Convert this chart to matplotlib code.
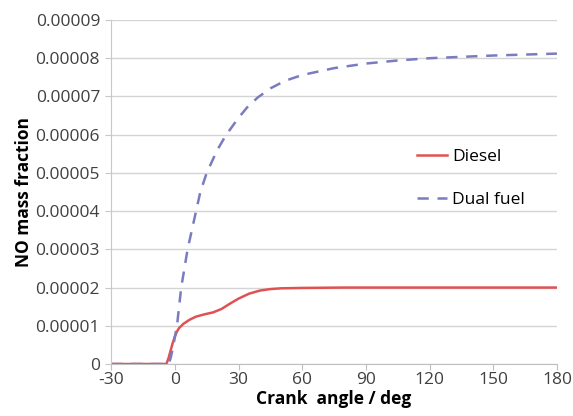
import numpy as np
from matplotlib import pyplot as plt

plt.rcParams['font.family'] = ['Open Sans', 'DejaVu Sans']
plt.rcParams['axes.unicode_minus'] = False

# crank angle (deg) and NO mass fraction
diesel_ca = [-30, -4, -3, -2, -1, 0, 1, 2, 4, 7, 10, 14, 18, 22, 26, 30, 35, 40, 45, 50, 60, 80, 120, 180]
diesel_no = [0, 0, 0.0000015, 0.0000035, 0.0000055, 0.0000072, 0.0000085, 0.0000094, 0.0000105,
             0.0000116, 0.0000124, 0.0000130, 0.0000135, 0.0000144, 0.0000158, 0.0000171,
             0.0000184, 0.0000192, 0.0000196, 0.0000198, 0.0000199, 0.00002, 0.00002, 0.00002]

dual_ca = [-30, -3, -2, -1, 0, 1, 3, 6, 10, 12, 15, 20, 24, 30, 34, 39, 45, 52, 60, 75, 90, 105, 120, 150, 180]
dual_no = [0, 0, 0.0000015, 0.000004, 0.000007, 0.00001, 0.00002, 0.00003, 0.00004, 0.000045,
           0.00005, 0.000056, 0.0000598, 0.0000644, 0.0000671, 0.0000697, 0.0000721, 0.0000741,
           0.0000756, 0.0000774, 0.0000786, 0.0000794, 0.00008, 0.0000807, 0.0000812]

x_ticks = [-30, 0, 30, 60, 90, 120, 150, 180]
y_ticks = [0, 0.00001, 0.00002, 0.00003, 0.00004, 0.00005, 0.00006, 0.00007, 0.00008, 0.00009]
y_labels = ['0', '0.00001', '0.00002', '0.00003', '0.00004', '0.00005', '0.00006', '0.00007',
            '0.00008', '0.00009']

fig = plt.figure(figsize=(5.73, 4.16), dpi=100)
ax = fig.add_axes([0.194, 0.125, 0.778, 0.827])

ax.plot(diesel_ca, diesel_no, color='#e05252', lw=1.8, label='Diesel')
ax.plot(dual_ca, dual_no, color='#7b7bc0', lw=1.8, ls=(0, (4.5, 3.5)), label='Dual fuel')

ax.set_xlim(-30, 180)
ax.set_ylim(0, 0.00009)
ax.set_xticks(x_ticks)
ax.set_yticks(y_ticks)
ax.set_yticklabels(y_labels)
ax.tick_params(axis='both', labelsize=12.5, colors='#404040')
ax.tick_params(axis='y', length=4, color='#c8c8c8', pad=4)
ax.tick_params(axis='x', length=4, color='#c0c0c0', pad=2)
ax.grid(axis='y', color='#d4d4d4', lw=1)
ax.set_axisbelow(True)
for s in ['top', 'right']:
    ax.spines[s].set_visible(False)
ax.spines['left'].set_color('#c8c8c8')
ax.spines['bottom'].set_color('#c0c0c0')

ax.set_xlabel('Crank  angle / deg', fontsize=12.5, fontweight='bold', labelpad=1)
ax.set_ylabel('NO mass fraction', fontsize=12.5, fontweight='bold', labelpad=2)

ax.legend(loc='upper left', bbox_to_anchor=(0.65, 0.67), frameon=False, fontsize=12.5,
          labelspacing=1.55, handlelength=1.75, handletextpad=0.3)

fig.savefig('out.png', dpi=100)
